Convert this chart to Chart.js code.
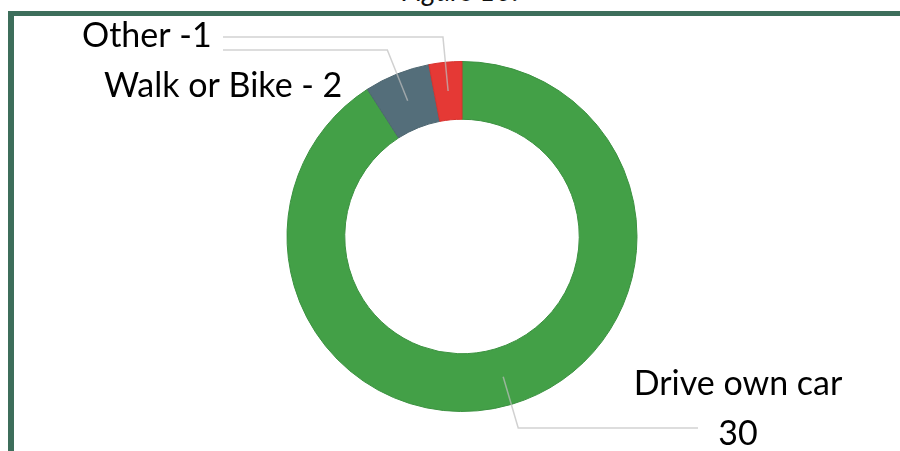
<!DOCTYPE html>
<html>
<head>
<meta charset="utf-8">
<script src="https://cdn.jsdelivr.net/npm/chart.js@4"></script>
<style>
  html, body { margin: 0; padding: 0; background: #fff; }
  #wrap { position: relative; width: 900px; height: 451px; overflow: hidden; }
  #frame {
    position: absolute; left: 8px; top: 11px; width: 910px; height: 460px;
    border-top: 5px solid #3d6e5b; border-left: 6px solid #3d6e5b;
  }
  #fig {
    position: absolute; left: 0; width: 920px; top: -24px; text-align: center;
    font: italic 28px Lato, sans-serif; line-height: 28px; color: #111;
  }
  canvas { position: absolute; left: 0; top: 0; }
</style>
</head>
<body>
<div id="wrap">
  <div id="fig">Figure 10.</div>
  <div id="frame"></div>
  <canvas id="donut" width="900" height="451"></canvas>
</div>
<script>
// commute mode counts
const modes = ['Drive own car', 'Walk or Bike', 'Other'];
const counts = [30, 2, 1];
const sliceColors = ['#43a047', '#546e7a', '#e53935'];
const edgeColors = ['#3b9140', '#4d6670', '#d8322e'];

// label text, built from the data
const labelLines = [
  [modes[0], String(counts[0])],
  [modes[1] + ' - ' + counts[1]],
  [modes[2] + ' -' + counts[2]]
];

// where each callout goes (line height, end of horizontal line, text anchor)
const callouts = [
  { lineY: 428, endX: 698, textX: 738, textY: 395, align: 'center', lineGap: 50 },
  { lineY: 50, endX: 223, textX: 104, textY: 97, align: 'left' },
  { lineY: 37, endX: 223, textX: 82, textY: 47, align: 'left' }
];

const calloutPlugin = {
  id: 'callouts',
  afterDatasetsDraw(chart) {
    const ctx = chart.ctx;
    const meta = chart.getDatasetMeta(0);
    meta.data.forEach((arc, i) => {
      const p = arc.getProps(['x', 'y', 'startAngle', 'endAngle', 'innerRadius', 'outerRadius'], true);
      const mid = (p.startAngle + p.endAngle) / 2;
      const r = (p.innerRadius + p.outerRadius) / 2;
      const sx = p.x + Math.cos(mid) * r;
      const sy = p.y + Math.sin(mid) * r;
      const c = callouts[i];
      // go along the radius until the callout height, then horizontal
      const t = (c.lineY - p.y) / Math.sin(mid);
      const ex = p.x + Math.cos(mid) * t;
      ctx.save();
      ctx.strokeStyle = 'rgba(190,190,190,0.7)';
      ctx.lineWidth = 1.5;
      ctx.beginPath();
      ctx.moveTo(sx, sy);
      ctx.lineTo(ex, c.lineY);
      ctx.lineTo(c.endX, c.lineY);
      ctx.stroke();
      ctx.fillStyle = '#000';
      ctx.font = '34px Lato, sans-serif';
      ctx.textAlign = c.align;
      ctx.textBaseline = 'alphabetic';
      labelLines[i].forEach((line, k) => {
        ctx.fillText(line, c.textX, c.textY + k * (c.lineGap || 0));
      });
      ctx.restore();
    });
  }
};

new Chart(document.getElementById('donut'), {
  type: 'doughnut',
  data: {
    labels: modes,
    datasets: [{
      data: counts,
      backgroundColor: sliceColors,
      borderColor: edgeColors,
      borderWidth: 1
    }]
  },
  options: {
    responsive: false,
    animation: false,
    cutout: '67%',
    layout: { padding: { left: 286, right: 262, top: 61, bottom: 39 } },
    plugins: {
      legend: { display: false },
      tooltip: { enabled: false },
      title: { display: false }
    }
  },
  plugins: [calloutPlugin]
});
</script>
</body>
</html>
